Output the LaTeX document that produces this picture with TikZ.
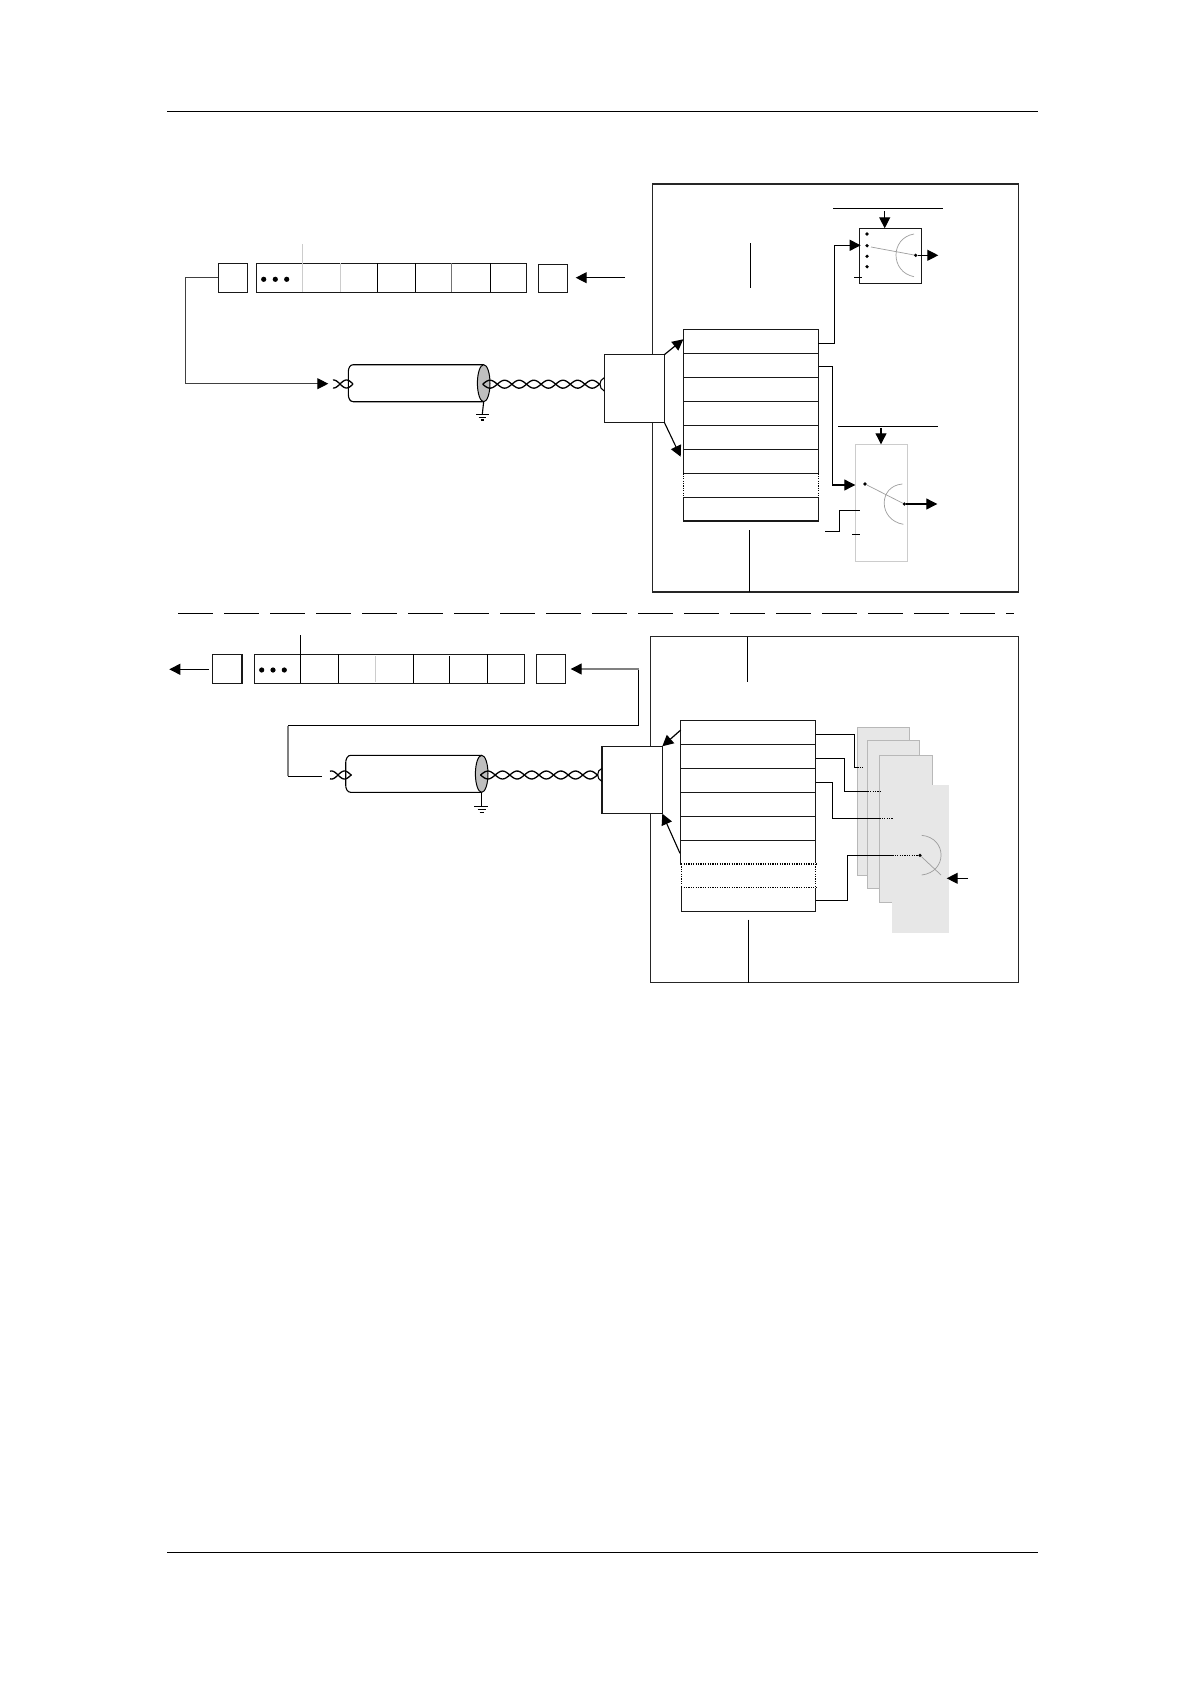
\documentclass[tikz,border=0pt]{standalone}
\usetikzlibrary{arrows.meta}
\definecolor{shell}{gray}{0.75}
\definecolor{card}{gray}{0.905}
\definecolor{cardedge}{gray}{0.72}
\definecolor{faint}{gray}{0.8}
\definecolor{wipe}{gray}{0.62}
\newcommand{\bx}[6]{\node[#1, minimum width={(#5-#3)*1pt}, minimum height={(#6-#4)*1pt}] (#2) at ({(#3+#5)/2},{(#4+#6)/2}) {};}
\newcommand{\twist}[5]{% from, to, centre y, first crossing, half period
  \draw[pair] plot[smooth,samples=60,domain=#1:#2] (\x,{#3+4*sin((\x-#4)/#5*180)});
  \draw[pair] plot[smooth,samples=60,domain=#1:#2] (\x,{#3-4*sin((\x-#4)/#5*180)});}
\tikzset{
  base/.style={inner sep=0pt,outer sep=0pt,rectangle},
  cell/.style={base,draw=black!90,line width=1.1pt},
  ifbox/.style={base,draw=black!90,fill=white,line width=1.1pt},
  lightcell/.style={base,draw=faint,line width=0.9pt},
  openrow/.style={base,draw=none},
  frame/.style={base,draw=black!85,line width=1.5pt},
  cardbox/.style={base,fill=card,draw=cardedge,line width=0.9pt},
  cardtop/.style={base,fill=card,draw=card,line width=0.8pt},
  wire/.style={line width=1.1pt,draw=black},
  greywire/.style={line width=1.2pt,draw=black!50},
  thin wire/.style={line width=0.7pt,draw=wipe},
  pin/.style={circle,fill=black,inner sep=0pt,outer sep=0pt,minimum size=3.6pt},
  ddot/.style={circle,fill=black,inner sep=0pt,outer sep=0pt,minimum size=5.2pt},
  dotw/.style={line width=1.1pt,dash pattern=on 1.2pt off 1.2pt,draw=black},
  tip/.style={-{Triangle[length=11pt,width=11pt,color=black,fill=black]}},
  pair/.style={line width=1.3pt,draw=black},
  ruleline/.style={line width=1pt,draw=black},
}
\begin{document}
\begin{tikzpicture}[x=1pt,y=-1pt]
\useasboundingbox[fill=white] (0,0) rectangle (1190,1684);
% page rules
\coordinate (rta) at (167,111); \coordinate (rtb) at (1038,111);
\coordinate (rba) at (167,1552.3); \coordinate (rbb) at (1038,1552.3);
\draw[ruleline] (rta) -- (rtb);
\draw[ruleline] (rba) -- (rbb);
% separator
\coordinate (sepa) at (178,613.3); \coordinate (sepb) at (1014,613.3);
\draw[line width=1pt,dash pattern=on 35pt off 11pt] (sepa) -- (sepb);

% ===== TOP =====
\bx{frame}{frameT}{652.7}{184}{1018.7}{592}
\bx{ifbox}{ifT}{604.3}{354.7}{664.3}{422.3}
% registers
\bx{cell}{srcT}{218.3}{263.3}{247.7}{292.3}
\bx{cell}{regT}{256.3}{263.3}{526.7}{292.3}
\bx{cell}{dstT}{538.3}{264.3}{567.7}{292.3}
\coordinate (dTa) at (302.3,244); \coordinate (dTa2) at (302.3,292.3);
\draw[draw=faint,line width=0.8pt] (dTa) -- (dTa2);
\draw[draw=faint,line width=0.8pt] (340.7,263.3) -- (340.7,292.3);
\draw[wire] (377.3,263.3) -- (377.3,292.3);
\draw[wire] (415.7,263.3) -- (415.7,292.3);
\draw[draw=black!55,line width=0.9pt] (451.7,263.3) -- (451.7,292.3);
\draw[wire] (490.7,263.3) -- (490.7,292.3);
\node[ddot] (dT1) at (263.7,279.3) {};
\node[ddot] (dT2) at (275.3,279.3) {};
\node[ddot] (dT3) at (286.7,279.3) {};
\coordinate (inT) at (625,277.7);
\coordinate (inTe) at (575.7,277.7);
\draw[wire,tip] (inT) -- (inTe);
\coordinate (cabTin) at (328.3,383.7);
\draw[wire,draw=black!75,tip] (srcT.west |- 0,277.7) -- (185.7,277.7) -- (185.7,383.7) -- (cabTin);
% cable top
\coordinate (cTa) at (483.7,364.7); \coordinate (cTb) at (483.7,401.7);
\draw[wire] (cTa) -- (353.3,364.7) .. controls (350,364.7) and (348.3,368) .. (348.3,372) -- (348.3,394) .. controls (348.3,398.5) and (350,401.7) .. (353.3,401.7) -- (cTb);
\filldraw[fill=shell,draw=black,line width=1pt] (483.7,383.2) ellipse [x radius=6.3,y radius=18.5];
\coordinate (gT) at (482.3,414);
\draw[wire] (cTb) -- (gT);
\draw[line width=1pt] (476,414) -- (489,414);
\draw[line width=1pt] (478.5,417) -- (486,417);
\draw[line width=1.2pt] (480.5,420) -- (484,420);
\twist{333}{353}{384}{340}{13}
\twist{482.7}{600}{384.2}{497.3}{14.6}
\draw[wire] (604.3,377.7) .. controls (598.5,380) and (598.5,388.5) .. (604.3,391);
% table top
\bx{cell}{rT1}{683.3}{329.7}{818.3}{353.3}
\bx{cell}{rT2}{683.3}{353.3}{818.3}{377.3}
\bx{cell}{rT3}{683.3}{377.3}{818.3}{401.3}
\bx{cell}{rT4}{683.3}{401.3}{818.3}{425.3}
\bx{cell}{rT5}{683.3}{425.3}{818.3}{449.3}
\bx{cell}{rT6}{683.3}{449.3}{818.3}{473.3}
\bx{openrow}{rT7}{683.3}{473.3}{818.3}{497.3}
\draw[dotw] (rT7.north west) -- (rT7.south west);
\draw[dotw] (rT7.north east) -- (rT7.south east);
\bx{cell}{rT8}{683.3}{497.3}{818.3}{521}
\coordinate (aTa) at (683.3,339.3); \coordinate (aTb) at (680.7,456.7);
\draw[wire,line width=1.2pt,tip] (ifT.north east) -- (aTa);
\draw[wire,tip] (ifT.south east) -- (aTb);
\coordinate (lblT) at (750.3,243); \coordinate (lblTb) at (750.3,287.7);
\draw[wire] (lblT) -- (lblTb);
\coordinate (lblU) at (749.3,530);
\draw[wire] (lblU) -- (749.3,592);
% mux 1
\bx{cell}{muxA}{859.3}{228.3}{921.7}{283.3}
\coordinate (oA) at (833,208.3); \coordinate (oAb) at (942.7,208.3);
\draw[wire] (oA) -- (oAb);
\coordinate (ctlA) at (884.7,211.3);
\draw[wire,tip] (ctlA) -- (884.7,228.3);
\node[pin] (pA1) at (867,234) {};
\node[pin] (pA2) at (867,245.7) {};
\node[pin] (pA3) at (867,256.3) {};
\node[pin] (pA4) at (867,266.7) {};
\draw[wire] (854,277.3) -- (862,277.3);
\node[pin] (wA) at (915.7,255.3) {};
\coordinate (wAs) at (871,247);
\draw[thin wire] (wAs) -- (wA);
\draw[thin wire] (914,234) .. controls (890,238) and (890,272) .. (914,276.7);
\coordinate (oAe) at (938.3,255.3);
\draw[wire,line width=1.2pt,tip] (wA) -- (oAe);
\draw[wire,tip] (rT1.east |- 0,343.3) -- (834.7,343.3) -- (834.7,245.3) -- (860.7,245.3);
% mux 2
\bx{lightcell}{muxB}{855.7}{444.3}{907.7}{561.3}
\coordinate (oB) at (838,426.3); \coordinate (oBb) at (937.7,426.3);
\draw[wire] (oB) -- (oBb);
\coordinate (ctlB) at (881,428.3);
\draw[wire,tip] (ctlB) -- (881,444.3);
\node[pin] (pB) at (865,484) {};
\node[pin] (wB) at (904.3,504) {};
\coordinate (wBs) at (867,485);
\draw[thin wire] (wBs) -- (wB);
\draw[thin wire] (902.3,484) .. controls (878,486) and (878,520) .. (903.3,524.3);
\coordinate (oBe) at (937.3,504);
\draw[wire,tip] (wB) -- (oBe);
\draw[wire,tip] (819,366.3) -- (832.7,366.3) -- (832.7,485) -- (855.3,485);
\draw[wire] (825,531.3) -- (839.3,531.3) -- (839.3,510.3) -- (860,510.3);
\draw[wire] (852,534.3) -- (860,534.3);

% ===== BOTTOM =====
\bx{frame}{frameB}{650.7}{636.7}{1018.3}{982.7}
\bx{ifbox}{ifB}{602}{746.3}{662.3}{813.7}
\bx{cell}{srcB}{212.3}{654.3}{242}{683.3}
\bx{cell}{regB}{254.3}{654.3}{524.7}{683.3}
\bx{cell}{dstB}{536.3}{654.7}{565.7}{683.3}
\coordinate (dBa) at (300.3,635);
\draw[wire] (dBa) -- (300.3,683.3);
\draw[wire] (338.7,654.3) -- (338.7,683.3);
\draw[draw=faint,line width=0.8pt] (375.3,656) -- (375.3,682);
\draw[wire] (413.3,654.3) -- (413.3,683.3);
\draw[wire] (449.3,656) -- (449.3,683.3);
\draw[wire] (487.7,654.3) -- (487.7,683.3);
\node[ddot] (dB1) at (261.7,670) {};
\node[ddot] (dB2) at (273,670) {};
\node[ddot] (dB3) at (284.3,670) {};
\coordinate (outB) at (209,669.3); \coordinate (outBe) at (169.3,669.3);
\draw[wire,tip] (outB) -- (outBe);
\coordinate (fbA) at (322,776.3); \coordinate (fbB) at (570.7,669);
\draw[wire] (fbA) -- (288,776.3);
\draw[greywire] (288,776.3) -- (288,725.7);
\draw[wire] (288,725.7) -- (638.7,725.7) -- (638.7,669);
\draw[greywire,tip] (638.7,669) -- (fbB);
% cable bottom
\coordinate (cBa) at (481.7,755.3); \coordinate (cBb) at (481.7,792.3);
\draw[wire] (cBa) -- (350.7,755.3) .. controls (347.5,755.3) and (345.7,759) .. (345.7,763) -- (345.7,785) .. controls (345.7,789) and (347.5,792.3) .. (350.7,792.3) -- (cBb);
\filldraw[fill=shell,draw=black,line width=1pt] (481.7,773.8) ellipse [x radius=6.3,y radius=18.5];
\coordinate (gB) at (481.7,806.3);
\draw[wire] (cBb) -- (gB);
\draw[line width=0.9pt] (474.3,806.3) -- (488.3,806.3);
\draw[line width=0.9pt] (477.5,809.5) -- (485.5,809.5);
\draw[line width=0.9pt] (479.5,812.5) -- (483.5,812.5);
\twist{330}{351.5}{775}{338}{13}
\twist{480.5}{598}{775}{495.2}{14.6}
\draw[wire] (602,768.3) .. controls (596.2,770.5) and (596.2,779) .. (602,781.5);
% table bottom
\bx{cell}{rB1}{680.7}{720.3}{815.7}{744.3}
\bx{cell}{rB2}{680.7}{744.3}{815.7}{768.3}
\bx{cell}{rB3}{680.7}{768.3}{815.7}{792.3}
\bx{cell}{rB4}{680.7}{792.3}{815.7}{816.3}
\bx{cell}{rB5}{680.7}{816.3}{815.7}{840.3}
\bx{cell}{rB6}{680.7}{840.3}{815.7}{864}
\bx{cell}{rB8}{681.2}{887.7}{815.7}{911.7}
\bx{openrow}{rB7}{681.2}{864}{815.7}{887.7}
\draw[draw=white,line width=1.3pt] (rB7.north west) -- (rB7.north east) (rB7.south west) -- (rB7.south east);
\draw[dotw] (rB7.north west) -- (rB7.north east) (rB7.south west) -- (rB7.south east);
\draw[dotw] (rB7.north west) -- (rB7.south west);
\draw[dotw] (rB7.north east) -- (rB7.south east);
\coordinate (abA) at (680.7,730); \coordinate (abB) at (680,853.3);
\draw[wire,line width=1.2pt,tip] (abA) -- (ifB.north east);
\draw[wire,tip] (abB) -- (ifB.south east);
\coordinate (lblV) at (747.3,681.7);
\draw[wire] (747.3,636.7) -- (lblV);
\coordinate (lblW) at (748.3,919.7);
\draw[wire] (lblW) -- (748.3,982.7);
% cards
\bx{cardbox}{cdA}{857.3}{727.7}{909.7}{875.7}
\bx{cardbox}{cdB}{867.7}{740.7}{919.7}{888.7}
\bx{cardbox}{cdC}{879.3}{755.3}{932}{902.7}
\bx{cardtop}{cdD}{892.3}{785.3}{948}{932.7}
\draw[wire] (815.7,734.3) -- (854.3,734.3) -- (854.3,767.3) -- (857.3,767.3);
\draw[dotw] (857.3,767.3) -- (864,767.3);
\draw[wire] (815.7,758.3) -- (844.3,758.3) -- (844.3,791.7) -- (867.7,791.7);
\draw[dotw] (867.7,791.7) -- (880,791.7);
\draw[wire] (815.7,782.3) -- (832.3,782.3) -- (832.3,818.3) -- (879.3,818.3);
\draw[dotw] (879.3,818.3) -- (893,818.3);
\draw[wire] (815.7,900.7) -- (847.3,900.7) -- (847.3,855.3) -- (892.3,855.3);
\node[pin] (wC) at (920,855.3) {};
\draw[dotw] (892.3,855.3) -- (wC);
\coordinate (wCe) at (941,875);
\draw[thin wire] (wC) -- (wCe);
\draw[thin wire] (921.7,835.3) .. controls (947.5,838) and (947.5,872) .. (921.7,875);
\coordinate (ctlC) at (968,878.3); \coordinate (ctlCe) at (946.7,878.3);
\draw[wire,line width=1.2pt,tip] (ctlC) -- (ctlCe);
\end{tikzpicture}
\end{document}
